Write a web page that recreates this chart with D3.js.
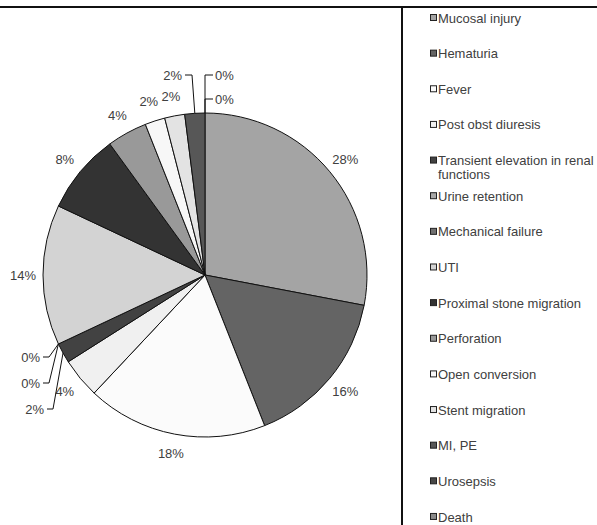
<!DOCTYPE html>
<html><head><meta charset="utf-8">
<script src="https://cdn.jsdelivr.net/npm/d3@7"></script>
<style>html,body{margin:0;padding:0;background:#fff;}svg{display:block;}</style>
</head><body>
<svg id="chart" width="597" height="525"></svg>
<script>
// ---- data ----
const categories = ["Mucosal injury","Hematuria","Fever","Post obst diuresis","Transient elevation in renal functions","Urine retention","Mechanical failure","UTI","Proximal stone migration","Perforation","Open conversion","Stent migration","MI, PE","Urosepsis","Death"];
const values = [28,16,18,4,2,0,0,14,8,4,2,2,2,0,0];
const sliceColors = ["#a4a4a4","#646464","#fbfbfb","#f0f0f0","#424242","#a8a8a8","#707070","#d3d3d3","#333333","#999999","#f7f7f7","#e3e3e3","#575757","#474747","#8a8a8a"];

// ---- layout ----
const W = 597, H = 525;
const cx = 205, cy = 275, R = 162, labelR = 182;
const font = "'Liberation Sans', Arial, sans-serif";
const textColor = "#404040";
// leader-line label layout (relative to pie centre): text x, text y, anchor, elbow x
const leaderLayout = {
  4:  {tx: -161, ty: 134, anchor: "end", ex: -152},
  5:  {tx: -165, ty: 82,  anchor: "end", ex: -156},
  6:  {tx: -165, ty: 108, anchor: "end", ex: -156},
  12: {tx: -23,  ty: -200, anchor: "end", ex: -13},
  13: {tx: 10,   ty: -200, anchor: "start", ex: 0},
  14: {tx: 10,   ty: -176, anchor: "start", ex: 0}
};

const svg = d3.select("#chart");
svg.append("rect").attr("width", W).attr("height", H).attr("fill", "#fff");

// frame lines
svg.append("line").attr("x1", 0).attr("x2", W).attr("y1", 7).attr("y2", 7)
  .attr("stroke", "#111").attr("stroke-width", 2);
svg.append("line").attr("x1", 402).attr("x2", 402).attr("y1", 7).attr("y2", H)
  .attr("stroke", "#111").attr("stroke-width", 2);

const total = d3.sum(values);
const pie = d3.pie().sort(null).value(d => d);
const arcs = pie(values);
const arc = d3.arc().innerRadius(0).outerRadius(R);

const g = svg.append("g").attr("transform", `translate(${cx},${cy})`);
g.selectAll("path.slice").data(arcs.filter(a => a.value > 0)).join("path")
  .attr("class", "slice")
  .attr("d", arc)
  .attr("fill", d => sliceColors[d.index])
  .attr("stroke", "#111").attr("stroke-width", 1).attr("stroke-linejoin", "round");

const fmt = v => Math.round(v / total * 100) + "%";
const pt = (ang, r) => [r * Math.sin(ang), -r * Math.cos(ang)];

arcs.forEach(a => {
  const mid = (a.startAngle + a.endAngle) / 2;
  const L = leaderLayout[a.index];
  if (L) {
    const [px, py] = pt(mid, R);
    const textEdge = L.anchor === "end" ? L.tx + 3 : L.tx - 2;
    g.append("polyline")
      .attr("points", `${textEdge},${L.ty} ${L.ex},${L.ty} ${px},${py}`)
      .attr("fill", "none").attr("stroke", "#111").attr("stroke-width", 1);
    g.append("text").attr("x", L.tx).attr("y", L.ty).attr("dy", "0.35em")
      .attr("text-anchor", L.anchor)
      .attr("font-family", font).attr("font-size", 13).attr("fill", textColor)
      .text(fmt(a.value));
  } else {
    const [lx, ly] = pt(mid, labelR);
    g.append("text").attr("x", lx).attr("y", ly).attr("dy", "0.35em")
      .attr("text-anchor", "middle")
      .attr("font-family", font).attr("font-size", 13).attr("fill", textColor)
      .text(fmt(a.value));
  }
});

// legend
const legY0 = 18, legStep = 35.64;
const leg = svg.append("g");
categories.forEach((c, i) => {
  const y = legY0 + i * legStep;
  leg.append("rect").attr("x", 430.5).attr("y", y - 3.5).attr("width", 6).attr("height", 6)
    .attr("fill", sliceColors[i]).attr("stroke", "#222").attr("stroke-width", 1);
  const words = c === "Transient elevation in renal functions"
    ? ["Transient elevation in renal", "functions"] : [c];
  const t = leg.append("text").attr("x", 438).attr("y", y).attr("dy", "0.35em")
    .attr("font-family", font).attr("font-size", 13).attr("fill", textColor);
  words.forEach((w, k) => {
    t.append("tspan").attr("x", 438).attr("dy", k === 0 ? "0.35em" : "1.1em").text(w);
  });
});
</script>
</body></html>
